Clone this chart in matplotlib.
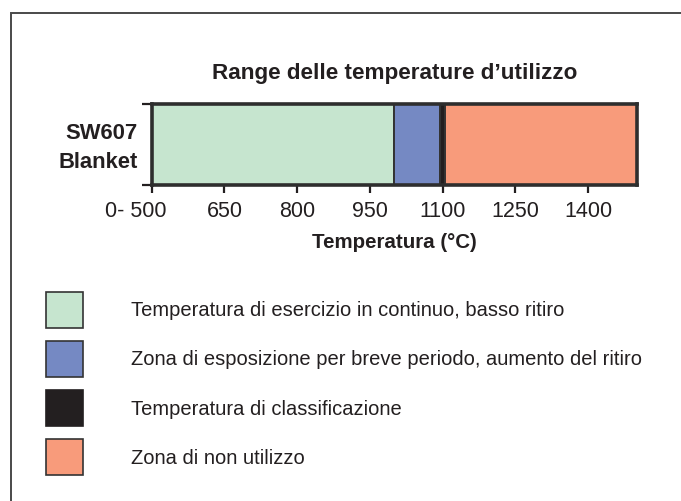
# plot.py
# Temperature range bar for SW607 Blanket, with a box legend underneath.
# Output: out.png (681x502)

import matplotlib.pyplot as plt
from matplotlib.patches import Rectangle
from matplotlib.transforms import ScaledTranslation

plt.rcParams["font.family"] = ["Liberation Sans", "DejaVu Sans"]

# segment edges in deg C and their colours
seg_start = [500, 1000, 1095, 1105]
seg_end = [1000, 1095, 1105, 1500]
seg_color = ["#c6e5cf", "#7589c3", "#231f20", "#f89b7b"]

product = "SW607\nBlanket"
xticks = [500, 650, 800, 950, 1100, 1250, 1400]
xtick_labels = ["0- 500", "650", "800", "950", "1100", "1250", "1400"]

legend_labels = [
    "Temperatura di esercizio in continuo, basso ritiro",
    "Zona di esposizione per breve periodo, aumento del ritiro",
    "Temperatura di classificazione",
    "Zona di non utilizzo",
]

W, H = 681, 502
fig = plt.figure(figsize=(W / 100, H / 100), dpi=100)

ax = fig.add_axes([151.7 / W, 1 - 186 / H, 485 / W, 81 / H])
widths = [e - s for s, e in zip(seg_start, seg_end)]
ax.barh([0], widths, left=seg_start, height=1, align="edge",
        color=seg_color, edgecolor="#333333", linewidth=1.4)
ax.set_xlim(500, 1500)
ax.set_ylim(0, 1)

for sp in ax.spines.values():
    sp.set_color("#2e2e2e")
    sp.set_linewidth(2.6)

ax.set_xticks(xticks, labels=xtick_labels)
ax.tick_params(axis="x", direction="out", length=6, width=1.6,
               color="#231f20", labelsize=15.5, pad=5, labelcolor="#231f20")
# first label sits a bit left of its tick in the original
first = ax.get_xticklabels()[0]
first.set_transform(first.get_transform()
                    + ScaledTranslation(-16 / 100, 0, fig.dpi_scale_trans))

ax.set_yticks([0.5], labels=[product])
ax.set_yticks([0, 1], minor=True)
ax.tick_params(axis="y", which="major", length=0, pad=10, labelsize=15.8)
ax.tick_params(axis="y", which="minor", length=7, width=1.6, color="#231f20")
for lbl in ax.get_yticklabels():
    lbl.set_fontweight("bold")
    lbl.set_color("#231f20")
    lbl.set_horizontalalignment("right")
    lbl.set_multialignment("right")
    lbl.set_linespacing(1.5)
    lbl.set_transform(lbl.get_transform()
                      + ScaledTranslation(0, 4 / 100, fig.dpi_scale_trans))

ax.set_title("Range delle temperature d\u2019utilizzo", fontsize=16.2,
             fontweight="bold", color="#231f20", pad=19)
ax.set_xlabel("Temperatura (\u00b0C)", fontsize=14.8, fontweight="bold",
              color="#231f20", labelpad=8)

# overlay in pixel units for the frame and the legend
ov = fig.add_axes([0, 0, 1, 1], zorder=-1)
ov.set_xlim(0, W)
ov.set_ylim(H, 0)
ov.axis("off")
ov.plot([11, 11, W], [H, 14, 14], color="#4a4a4a", lw=1.4,
        solid_joinstyle="miter")

for i, (lab, col) in enumerate(zip(legend_labels, seg_color)):
    y0 = 292.5 + i * 49.3
    ec = col if col == "#231f20" else "#333333"
    ov.add_patch(Rectangle((46, y0), 37, 36, facecolor=col,
                           edgecolor=ec, lw=1.2))
    ov.text(131, y0 + 18, lab, fontsize=14.5, color="#231f20", va="center")

fig.savefig("out.png", dpi=100)
